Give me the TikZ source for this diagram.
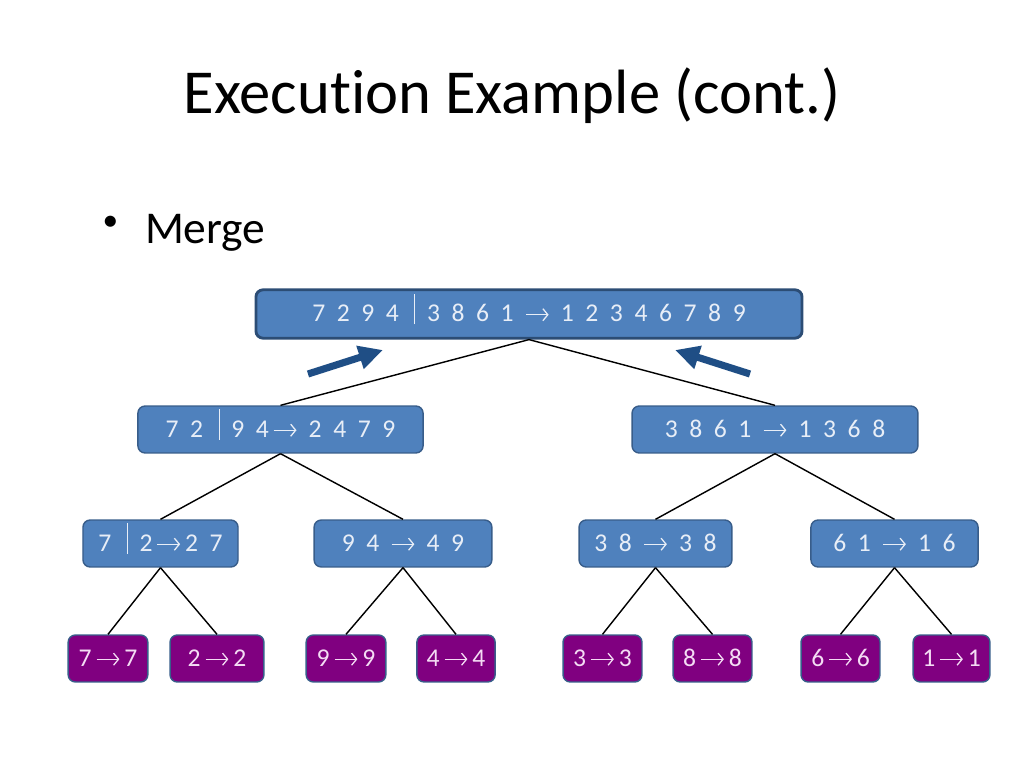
\documentclass[tikz,border=0pt]{standalone}
\usepackage{fontspec}
\setmainfont{Carlito}[Ligatures=NoCommon]
\newfontfamily\boxfont[WordSpace=2.0]{Carlito}
\usetikzlibrary{arrows.meta}
\definecolor{boxfill}{HTML}{4F81BD}
\definecolor{boxline}{HTML}{385D8A}
\definecolor{topline}{HTML}{2C4D75}
\definecolor{leaffill}{HTML}{800080}
\definecolor{boxtext}{HTML}{E8EEF7}
\definecolor{leaftext}{HTML}{F4DCF4}
\definecolor{upcol}{HTML}{1F4E85}
\newcommand{\splitbar}{\hspace{0.15em}\rule[-0.1em]{0.8pt}{1.2em}}
\newcommand{\toarr}{\tikz[baseline=-5pt]\draw[-{Straight Barb[length=3.5pt,width=8.5pt]}, line width=0.9pt] (0,0) -- (16pt,0);}
\begin{document}
\begin{tikzpicture}[x=0.703125pt, y=-0.703125pt,
  blk/.style={rectangle, rounded corners=5pt, fill=boxfill, draw=boxline, line width=1pt,
    text=boxtext, font=\boxfont\fontsize{18}{22}\selectfont, minimum height=33pt, inner sep=0pt,
    text height=12.5pt, text depth=1.5pt},
  leaf/.style={blk, fill=leaffill, text=leaftext},
  up/.style={-{Triangle[length=17pt,width=16pt]}, line width=5pt, draw=upcol}]
\useasboundingbox (0,0) rectangle (1024,768);
\node[anchor=base, font=\fontsize{44}{50}\selectfont] (title) at (512,114){Execution Example (cont.)};
\node[anchor=center, font=\fontsize{22}{26}\selectfont] (dot) at (110.5,223){•};
\node[anchor=base west, font=\fontsize{32}{36}\selectfont] (item) at (140,244){Merge};
% merge tree
\node[blk, draw=topline, line width=2pt, minimum width=384pt, minimum height=34pt] (ms0) at (529,314){7 2 9 4 \splitbar\ 3 8 6 1 \toarr\ 1 2 3 4 6 7 8 9};
\node[blk, minimum width=200.5pt] (ms1) at (280.5,429.5){7 2 \splitbar\ 9 4\,\toarr\ 2 4 7 9};
\node[blk, minimum width=201pt] (ms2) at (775,429.5){3 8 6 1 \toarr\ 1 3 6 8};
\node[blk, minimum width=109pt] (ms3) at (160.5,543.5){7 \splitbar\ 2\,\toarr\,2 7};
\node[blk, minimum width=125pt] (ms4) at (403,543.5){9 4 \toarr\ 4 9};
\node[blk, minimum width=107.5pt] (ms5) at (655.5,543.5){3 8 \toarr\ 3 8};
\node[blk, minimum width=117.5pt] (ms6) at (894.5,543.5){6 1 \toarr\ 1 6};
\node[leaf, minimum width=56pt] (ms7) at (108,658.5){7\,\toarr\,7};
\node[leaf, minimum width=66pt] (ms8) at (217,658.5){2\,\toarr\,2};
\node[leaf, minimum width=56pt] (ms9) at (346,658.5){9\,\toarr\,9};
\node[leaf, minimum width=55pt] (ms10) at (456,658.5){4\,\toarr\,4};
\node[leaf, minimum width=55.5pt] (ms11) at (602.5,658.5){3\,\toarr\,3};
\node[leaf, minimum width=55.5pt] (ms12) at (712.5,658.5){8\,\toarr\,8};
\node[leaf, minimum width=55.5pt] (ms13) at (840.5,658.5){6\,\toarr\,6};
\node[leaf, minimum width=54pt] (ms14) at (951.5,658.5){1\,\toarr\,1};
\draw[line width=1pt](ms0.south) -- (ms1.north);
\draw[line width=1pt](ms0.south) -- (ms2.north);
\draw[line width=1pt](ms1.south) -- (ms3.north);
\draw[line width=1pt](ms1.south) -- (ms4.north);
\draw[line width=1pt](ms2.south) -- (ms5.north);
\draw[line width=1pt](ms2.south) -- (ms6.north);
\draw[line width=1pt](ms3.south) -- (ms7.north);
\draw[line width=1pt](ms3.south) -- (ms8.north);
\draw[line width=1pt](ms4.south) -- (ms9.north);
\draw[line width=1pt](ms4.south) -- (ms10.north);
\draw[line width=1pt](ms5.south) -- (ms11.north);
\draw[line width=1pt](ms5.south) -- (ms12.north);
\draw[line width=1pt](ms6.south) -- (ms13.north);
\draw[line width=1pt](ms6.south) -- (ms14.north);
% merge direction
\coordinate (upl0) at (308,374);
\coordinate (upl1) at (383,350);
\coordinate (upr0) at (750,374);
\coordinate (upr1) at (675,350);
\draw[up](upl0) -- (upl1);
\draw[up](upr0) -- (upr1);
\end{tikzpicture}
\end{document}
